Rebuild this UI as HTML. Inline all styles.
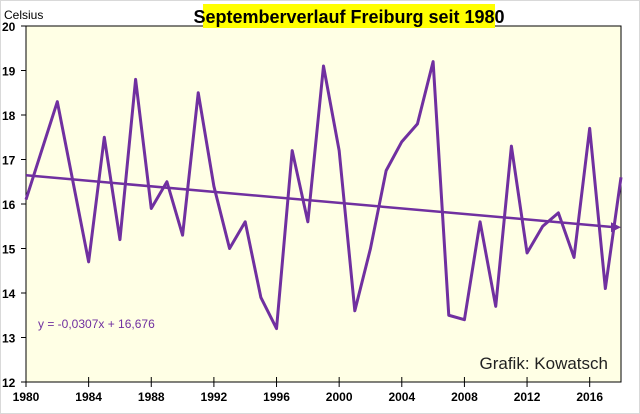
<!DOCTYPE html>
<html><head><meta charset="utf-8"><style>
body{margin:0;background:#fff}
svg{display:block;font-family:"Liberation Sans",sans-serif}
</style></head><body>
<svg width="640" height="414">
<rect x="0" y="0" width="640" height="414" fill="#fff"/>
<rect x="0.5" y="0.5" width="639" height="413" fill="none" stroke="#d9d9d9"/>
<rect x="26" y="26" width="595" height="356" fill="#ffffe5" stroke="#000" stroke-width="1"/>
<rect x="203" y="4" width="292" height="24" fill="#ffff00"/>
<text x="349" y="23" font-size="18" font-weight="bold" text-anchor="middle">Septemberverlauf Freiburg seit 1980</text>
<text x="4" y="19" font-size="12">Celsius</text>
<text x="608" y="369" font-size="17" fill="#222" text-anchor="end">Grafik: Kowatsch</text>
<text x="38" y="328" font-size="12" fill="#7030a0">y = -0,0307x + 16,676</text>
<g id="axes"></g>
<g id="marks"></g>
</svg>
<script>
const years=[1980,1981,1982,1983,1984,1985,1986,1987,1988,1989,1990,1991,1992,1993,1994,1995,1996,1997,1998,1999,2000,2001,2002,2003,2004,2005,2006,2007,2008,2009,2010,2011,2012,2013,2014,2015,2016,2017,2018];
const temps=[16.1,17.2,18.3,16.5,14.7,17.5,15.2,18.8,15.9,16.5,15.3,18.5,16.4,15.0,15.6,13.9,13.2,17.2,15.6,19.1,17.2,13.6,15.0,16.75,17.4,17.8,19.2,13.5,13.4,15.6,13.7,17.3,14.9,15.5,15.8,14.8,17.7,14.1,16.6];
const yTicks=[12,13,14,15,16,17,18,19,20];
const xTicks=[1980,1984,1988,1992,1996,2000,2004,2008,2012,2016];
const slope=-0.0307, intercept=16.676;
const NS='http://www.w3.org/2000/svg';
const X=y=>26+(y-1980)*(595/38);
const Y=v=>382-(v-12)*(356/8);
function mk(t,a,p){const e=document.createElementNS(NS,t);for(const k in a)e.setAttribute(k,a[k]);p.appendChild(e);return e;}
const ax=document.getElementById('axes'),mg=document.getElementById('marks');
yTicks.forEach(v=>{
 const l=mk('line',{x1:21,x2:26,y1:Y(v),y2:Y(v),stroke:'#000'},ax);
 
 
 const t=mk('text',{x:2,y:Y(v)+5,'font-size':12,'font-weight':'bold'},ax);t.textContent=v;
 
 
});
xTicks.forEach(v=>{
 const l=mk('line',{x1:X(v),x2:X(v),y1:377,y2:387,stroke:'#000'},ax);
 
 
 const t=mk('text',{x:X(v),y:401,'font-size':12,'font-weight':'bold','text-anchor':'middle'},ax);t.textContent=v;
 
 
});
const pl=mk('polyline',{points:years.map((y,i)=>X(y)+','+Y(temps[i])).join(' '),fill:'none',stroke:'#7030a0','stroke-width':3,'stroke-linejoin':'round'},mg);


const x0=years[0],x1=years[years.length-1];
const t0=intercept+slope*1,t1=intercept+slope*(x1-x0+1);
const tl=mk('line',{x1:X(x0),y1:Y(t0),x2:X(x1)-6,y2:Y(t1),stroke:'#7030a0','stroke-width':2.5},mg);


const ex=X(x1),ey=Y(t1);
const ar=mk('polygon',{points:`${ex},${ey} ${ex-10},${ey-5} ${ex-10},${ey+5}`,fill:'#7030a0'},mg);


</script>
</body></html>
